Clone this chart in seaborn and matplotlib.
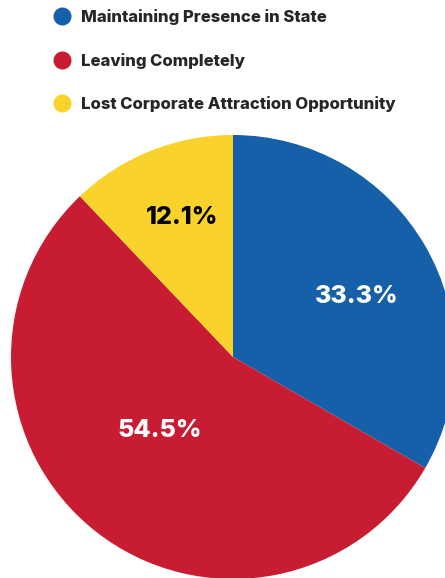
import matplotlib
matplotlib.use("Agg")
import matplotlib.pyplot as plt
from matplotlib.lines import Line2D
import numpy as np
import seaborn as sns

# data
categories = ["Maintaining Presence in State", "Leaving Completely",
              "Lost Corporate Attraction Opportunity"]
shares = [33.3, 54.5, 12.1]
pct_labels = ["33.3%", "54.5%", "12.1%"]
colors = ["#1560A8", "#C81C33", "#F9D32C"]
label_colors = ["white", "white", "black"]

sns.set_style("white")
plt.rcParams["font.family"] = ["Inter", "DejaVu Sans"]

fig = plt.figure(figsize=(4.45, 5.78), dpi=100)
ax = fig.add_axes([0, 0, 1, 1])

wedges, _ = ax.pie(shares, colors=colors, startangle=90, counterclock=False,
                   radius=1, wedgeprops=dict(linewidth=0))

# label placement per wedge: (radius factor, angle tweak in degrees)
placement = [(0.625, -3), (0.46, -8), (0.68, -2)]
for w, lab, col, (rf, da) in zip(wedges, pct_labels, label_colors, placement):
    ang = np.deg2rad((w.theta1 + w.theta2) / 2 + da)
    ax.text(rf * np.cos(ang), rf * np.sin(ang) - 0.013, lab, color=col,
            fontsize=18, fontweight="heavy", ha="center", va="center")

ax.set_aspect("equal")
ax.set_xlim(-233 / 222, 212 / 222)
ax.set_ylim(-221 / 222, 357 / 222)
ax.axis("off")

handles = [Line2D([], [], marker="o", linestyle="none", markersize=13,
                  markerfacecolor=c, markeredgewidth=0) for c in colors]
leg = fig.legend(handles, categories, loc="upper left",
                 bbox_to_anchor=(0.088, 1.010), frameon=False,
                 handletextpad=0.6, labelspacing=1.65, handlelength=1.0,
                 prop=dict(size=12, weight="heavy"))

fig.savefig("out.png", dpi=100)
